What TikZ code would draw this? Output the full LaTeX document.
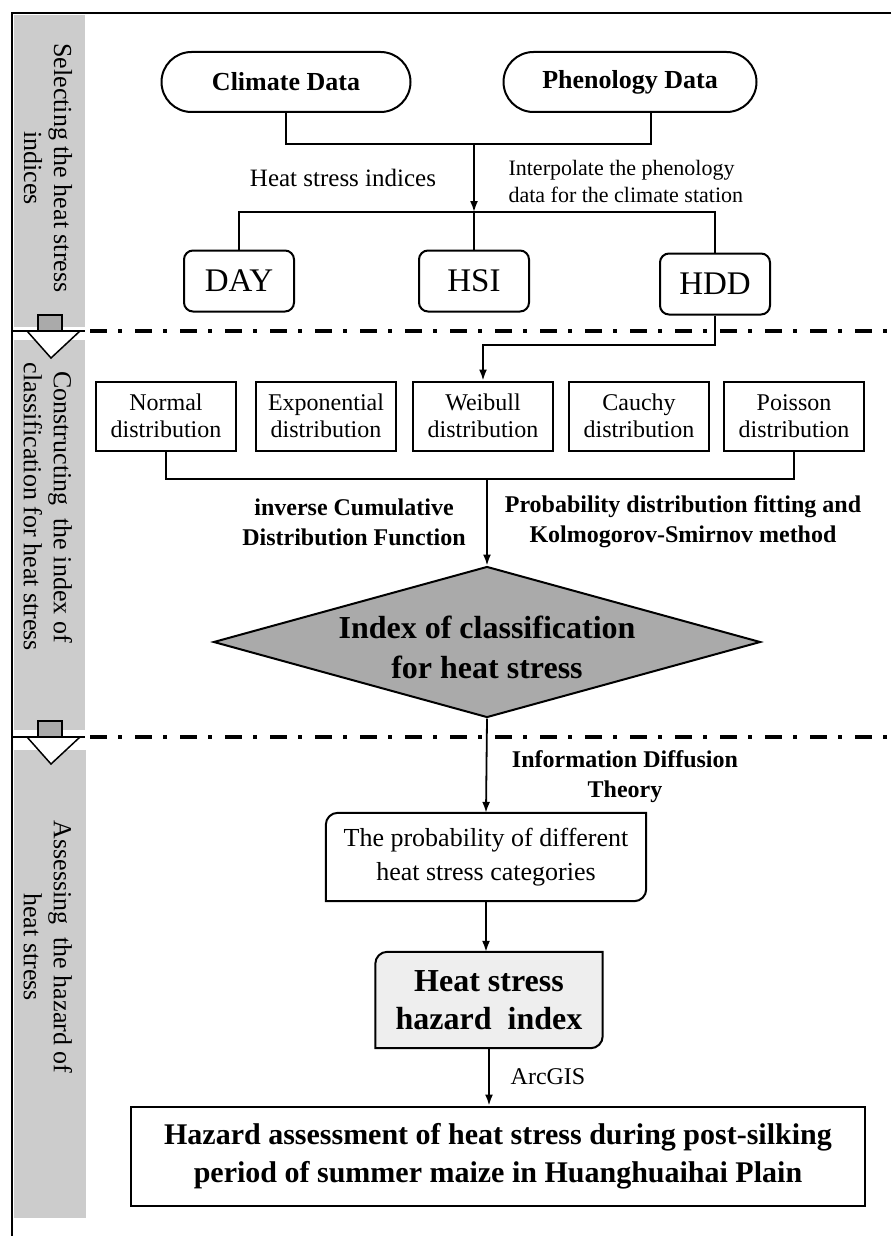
\documentclass[tikz,border=0pt]{standalone}
\usepackage{fontspec}
\setmainfont{Liberation Serif}
\usetikzlibrary{arrows.meta,shapes.geometric}
\definecolor{BandGray}{RGB}{204,204,204}
\definecolor{DiamondGray}{RGB}{170,170,170}
\definecolor{HazardPale}{RGB}{238,238,238}
\newcommand\fsz[2]{\fontsize{#1pt}{#2pt}\selectfont}
\tikzset{
  datanode/.style={draw, line width=2pt, rounded corners=30pt, minimum width=249pt,
                minimum height=60pt, font=\fsz{26}{30}\bfseries},
  idxnode/.style={draw, line width=2pt, rounded corners=9pt, minimum width=110pt,
                minimum height=61pt, font=\fsz{33}{36}},
  distnode/.style={draw, line width=2pt, minimum width=140pt, minimum height=69pt,
                align=center, font=\fsz{24}{27}, inner sep=0pt},
  link/.style={line width=1.8pt},
  arrowlink/.style={link, -{Latex[length=11pt,width=8pt]}},
  lbl/.style={font=\fsz{25}{30}, align=center},
  boldlbl/.style={font=\fsz{24}{30}\bfseries, align=center},
  bandtext/.style={font=\fsz{26}{30}, rotate=-90, align=center},
  sepline/.style={line width=4pt, dash pattern=on 17pt off 11pt on 4pt off 13pt},
  hollow/.style={line width=1.5pt},
}

\begin{document}
\begin{tikzpicture}[x=1pt, y=-1pt]
  \useasboundingbox (0,0) rectangle (891,1236);
  % Faixa lateral
  \fill[BandGray] (14,15) rectangle (85,327);
  \fill[BandGray] (14,340) rectangle (85,730);
  \fill[BandGray] (14,750) rectangle (86,1218);
  \draw[line width=2pt] (891,13) -- (12,13) -- (12,1236);
  \node[bandtext] (band1) at (48,168) {Selecting the heat stress\\indices};
  \node[bandtext] (band2) at (48,507) {Constructing\ \ the index of\\classification for heat stress};
  \node[bandtext] (band3) at (48,947) {Assessing\ \ the hazard of\\heat stress};

  % Separadores
  \foreach \y in {331,737} {
    \draw[sepline] (90,\y) -- (891,\y);
    \draw[line width=2pt] (12,\y) -- (85,\y);
  }
  \foreach \y in {315,721} {
    \filldraw[hollow, fill=DiamondGray] (38,\y) rectangle (62,\y+16);
    \filldraw[hollow, fill=white] (27,\y+16) -- (80,\y+16) -- (51,\y+43) -- cycle;
  }

  % Dados e indices
  \node[datanode] (clim) at (286,82) {Climate Data};
  \node[datanode, minimum width=253pt] (phen) at (630,82) {Phenology Data};
  \node[idxnode] (day) at (239,281) {DAY};
  \node[idxnode] (hsi) at (474,281) {HSI};
  \node[idxnode] (hdd) at (715,284) {HDD};
  \coordinate (j1) at (474,144);
  \coordinate (j2) at (474,212);
  \draw[link] (clim.south) |- (j1) -| ([xshift=21pt]phen.south);
  \draw[arrowlink] (j1) -- (j2);
  \draw[link] (day.north) |- (j2) -| (hdd.north);
  \draw[link] (j2) -- (hsi.north);
  \node[lbl] (hsilbl) at (343,178) {Heat stress indices};
  \node[lbl, font=\fsz{22}{27}, anchor=west, align=left] (interp) at (505,181)
    {Interpolate the phenology\\data for the climate station};

  % Distribuicoes
  \node[distnode] (norm) at (166,416) {Normal\\distribution};
  \node[distnode] (expo) at (326,416) {Exponential\\distribution};
  \node[distnode] (weib) at (483,416) {Weibull\\distribution};
  \node[distnode] (cauc) at (639,416) {Cauchy\\distribution};
  \node[distnode] (pois) at (794,416) {Poisson\\distribution};
  \coordinate (j3) at (483,345);
  \coordinate (j4) at (487,479);
  \draw[arrowlink] (hdd.south) |- (j3) -- (weib.north);
  \draw[link] (norm.south) |- (j4) -| (pois.south);

  % Indice de classificacao
  \node[diamond, draw, line width=2pt, fill=DiamondGray, minimum width=547pt,
        minimum height=151pt, inner sep=0pt] (cls) at (487,642) {};
  \node[font=\fsz{32}{40}\bfseries, align=center] (clstext) at ([yshift=-5pt]cls.center)
    {Index of classification\\for heat stress};
  \draw[arrowlink] (j4) -- (cls.north);
  \node[boldlbl] (icdf) at (354,522) {inverse Cumulative\\Distribution Function};
  \node[boldlbl] (ksfit) at (683,522) {Probability distribution fitting and\\Kolmogorov-Smirnov method};

  % Avaliacao do perigo
  \node[minimum width=320pt, minimum height=88pt, font=\fsz{26}{34}, align=center] (prob)
    at (486,857) {The probability of different\\heat stress categories};
  \draw[line width=2pt] (prob.south west) -- ([yshift=-12pt]prob.north west)
    arc[start angle=180, end angle=90, radius=12pt] -- (prob.north east)
    -- ([yshift=12pt]prob.south east) arc[start angle=0, end angle=-90, radius=12pt] -- cycle;
  \node[minimum width=227pt, minimum height=96pt] (haz) at (489,1000) {};
  \filldraw[line width=2pt, fill=HazardPale] (haz.south west) -- ([yshift=-12pt]haz.north west)
    arc[start angle=180, end angle=90, radius=12pt] -- (haz.north east)
    -- ([yshift=12pt]haz.south east) arc[start angle=0, end angle=-90, radius=12pt] -- cycle;
  \node[font=\fsz{32}{38}\bfseries, align=center] (haztext) at (haz.center)
    {Heat stress\\hazard\ \ index};
  \node[draw, line width=2pt, minimum width=734pt, minimum height=99pt,
        font=\fsz{30}{38}\bfseries, align=center] (fin) at (498,1156)
    {Hazard assessment of heat stress during post-silking\\period of summer maize in Huanghuaihai Plain};
  \draw[arrowlink] (cls.south) -- (prob.north);
  \node[boldlbl] (idt) at (625,777) {Information Diffusion\\Theory};
  \draw[arrowlink] (prob.south) -- (prob.south |- haz.north);
  \draw[arrowlink] (haz.south) -- (haz.south |- fin.north);
  \node[lbl, font=\fsz{24}{28}] (arcgis) at (548,1077) {ArcGIS};
\end{tikzpicture}
\end{document}
